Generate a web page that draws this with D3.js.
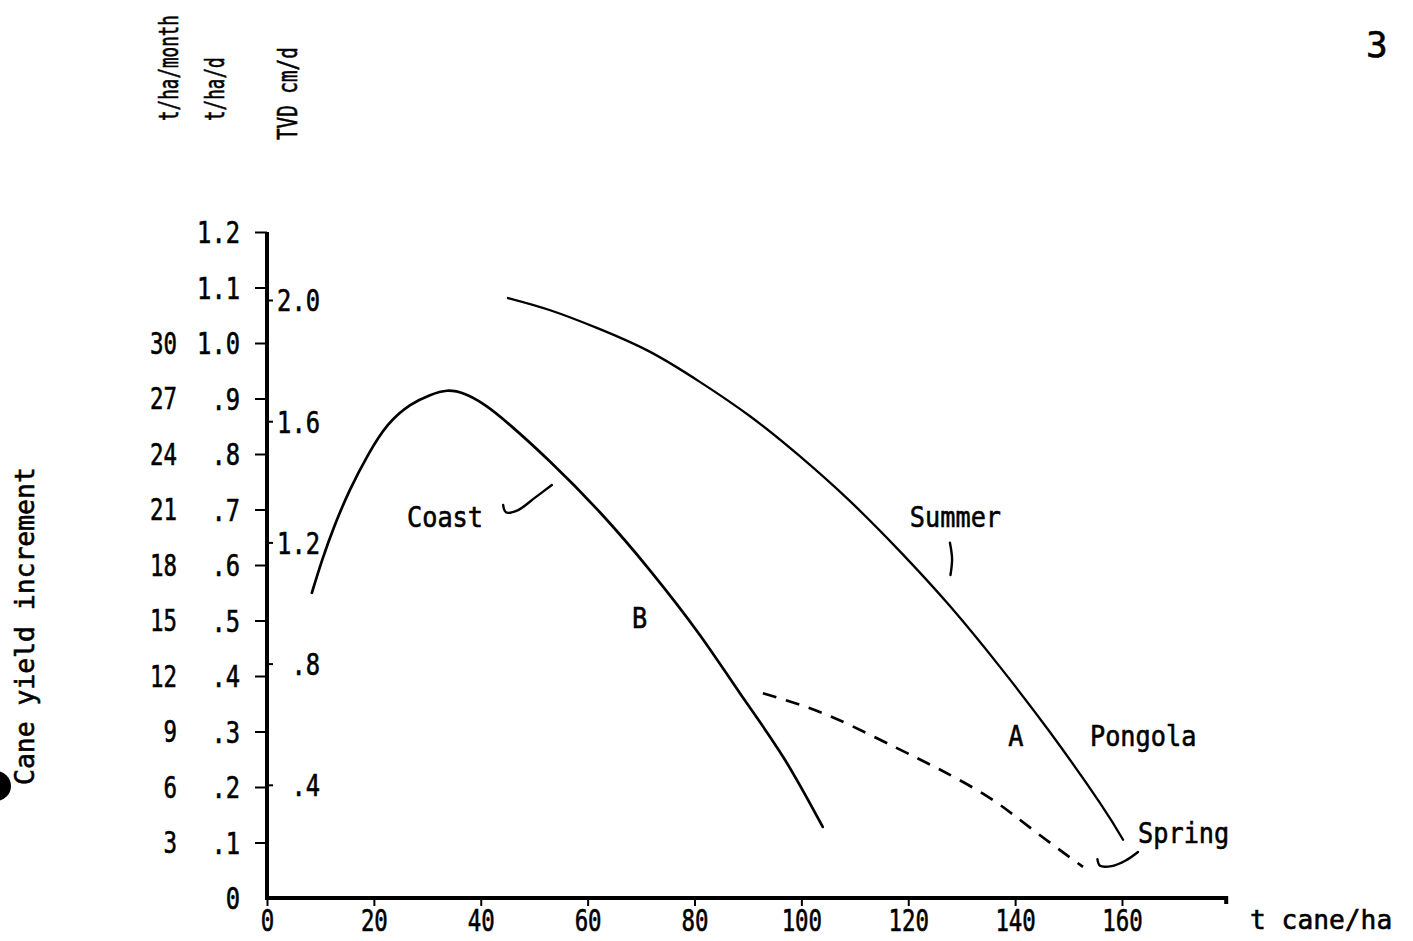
<!DOCTYPE html>
<html>
<head>
<meta charset="utf-8">
<script src="https://cdn.jsdelivr.net/npm/d3@7"></script>
<style>
  html, body { margin: 0; padding: 0; background: #fff; }
  svg { display: block; }
  text { font-family: "DejaVu Sans Mono", "Liberation Mono", monospace; fill: #000; stroke: #000; stroke-width: 0.6px; }
</style>
</head>
<body>
<svg id="chart" width="1413" height="941"></svg>
<script>
// Horizontal axis: cane yield, t cane/ha
const xTickValues = [0, 20, 40, 60, 80, 100, 120, 140, 160];

// Yield increment per day, t/ha/d
const dayTickValues = [0, 0.1, 0.2, 0.3, 0.4, 0.5, 0.6, 0.7, 0.8, 0.9, 1.0, 1.1, 1.2];
const dayTickLabels = ["0", ".1", ".2", ".3", ".4", ".5", ".6", ".7", ".8", ".9", "1.0", "1.1", "1.2"];

// Yield increment per month, t/ha/month
const monthTickValues = [3, 6, 9, 12, 15, 18, 21, 24, 27, 30];

// Total volume of water applied, TVD cm/d
const tvdTickValues = [0.4, 0.8, 1.2, 1.6, 2.0];
const tvdTickLabels = [".4", ".8", "1.2", "1.6", "2.0"];

// Curve B: Coast
const coastYield = [8.4, 10.4, 12.7, 15.5, 18.9, 22.6, 26.8, 30.5, 33.7, 37.0, 40.8, 45.5, 53.0, 62.3, 71.7, 81.0, 88.5, 96.6, 104.0];
const coastIncrement = [0.550, 0.611, 0.672, 0.735, 0.798, 0.852, 0.888, 0.906, 0.914, 0.908, 0.888, 0.852, 0.786, 0.695, 0.590, 0.474, 0.369, 0.254, 0.128];

// Curve A: Pongola, summer
const summerYield = [45.1, 53.0, 62.3, 71.7, 81.0, 90.4, 99.7, 109.1, 118.4, 127.8, 137.2, 146.5, 155.9, 160.2];
const summerIncrement = [1.081, 1.059, 1.025, 0.984, 0.930, 0.868, 0.796, 0.715, 0.625, 0.526, 0.416, 0.299, 0.171, 0.105];

// Pongola, spring (dashed)
const springYield = [92.8, 101.0, 109.0, 117.9, 126.0, 135.3, 143.3, 152.7];
const springIncrement = [0.369, 0.344, 0.312, 0.270, 0.231, 0.180, 0.123, 0.056];

// Leader strokes joining labels to curves
const coastLeaderX = [44.2, 44.7, 47.0, 50.1, 53.3];
const coastLeaderY = [0.708, 0.695, 0.699, 0.721, 0.744];
const summerLeaderX = [127.8, 128.2, 127.9];
const summerLeaderY = [0.640, 0.611, 0.582];
const springLeaderX = [155.4, 155.9, 158.3, 160.6, 163.0];
const springLeaderY = [0.070, 0.058, 0.058, 0.067, 0.083];

// Curve labels: text, yield, increment (baseline-left anchor)
const curveLabelText = ["Coast", "Summer", "B", "A", "Pongola", "Spring"];
const curveLabelX = [26.2, 120.3, 68.3, 138.7, 154.0, 163.0];
const curveLabelY = [0.668, 0.668, 0.486, 0.274, 0.274, 0.099];

const svg = d3.select("#chart");
const W = 1413, H = 941;
svg.append("rect").attr("width", W).attr("height", H).attr("fill", "#fff");

const x = d3.scaleLinear().domain([0, 160]).range([267, 1122]);
const y = d3.scaleLinear().domain([0, 1.2]).range([898, 232]);
const yTvd = d3.scaleLinear().domain([0, 2.0]).range([906, 300]);
const xEnd = 179.5;

// condensed typewriter look: squeeze glyphs to a fixed advance
function squeeze(sel, charW) {
  sel.each(function () {
    const t = d3.select(this);
    t.attr("textLength", t.text().length * charW).attr("lengthAdjust", "spacingAndGlyphs");
  });
  return sel;
}

// ---- axes ----
const axisColor = "#000";

// horizontal axis
const xAxis = svg.append("g").attr("transform", `translate(0,${y(0)})`)
  .call(d3.axisBottom(x).tickValues(xTickValues).tickSize(8).tickFormat(d3.format("d")));
xAxis.select(".domain").remove();
xAxis.selectAll(".tick line").attr("stroke", axisColor).attr("stroke-width", 2);
xAxis.selectAll(".tick text").attr("font-size", 30).attr("dy", null).attr("y", 33)
  .attr("font-family", '"DejaVu Sans Mono", monospace');
squeeze(xAxis.selectAll(".tick text"), 13.5);

svg.append("path")
  .attr("d", d3.line()([[x(0) - 1, y(0)], [x(xEnd), y(0)], [x(xEnd), y(0) + 6]]))
  .attr("fill", "none").attr("stroke", axisColor).attr("stroke-width", 4);

// vertical axis (t/ha/d) with ticks to the left
const yAxis = svg.append("g").attr("transform", `translate(${x(0)},0)`)
  .call(d3.axisLeft(y).tickValues(dayTickValues).tickSize(12)
    .tickFormat((d, i) => dayTickLabels[i]));
yAxis.select(".domain").remove();
yAxis.selectAll(".tick line").attr("stroke", axisColor).attr("stroke-width", 2);
yAxis.selectAll(".tick").filter(d => d === 0).select("line").remove();
yAxis.selectAll(".tick text").attr("font-size", 30).attr("x", -27).attr("dy", "0.36em")
  .attr("font-family", '"DejaVu Sans Mono", monospace');
squeeze(yAxis.selectAll(".tick text"), 14.3);

svg.append("line")
  .attr("x1", x(0)).attr("x2", x(0)).attr("y1", y(0) + 2).attr("y2", y(1.2))
  .attr("stroke", axisColor).attr("stroke-width", 4);

// t/ha/month labels, outer column
svg.append("g").selectAll("text").data(monthTickValues).join("text")
  .attr("x", 177).attr("y", d => y(d / 30)).attr("dy", "0.36em")
  .attr("text-anchor", "end").attr("font-size", 30)
  .text(d => d)
  .call(squeeze, 13.5);

// TVD ticks on the right of the axis
const tvdAxis = svg.append("g").attr("transform", `translate(${x(0)},0)`)
  .call(d3.axisRight(yTvd).tickValues(tvdTickValues).tickSize(6)
    .tickFormat((d, i) => tvdTickLabels[i]));
tvdAxis.select(".domain").remove();
tvdAxis.selectAll(".tick line").attr("stroke", axisColor).attr("stroke-width", 2);
tvdAxis.selectAll(".tick text").attr("font-size", 30).attr("x", 53).attr("dy", "0.36em")
  .attr("text-anchor", "end")
  .attr("font-family", '"DejaVu Sans Mono", monospace');
squeeze(tvdAxis.selectAll(".tick text"), 14.3);

// axis titles
svg.append("text").attr("x", 1250).attr("y", 929).attr("font-size", 27)
  .text("t cane/ha").call(squeeze, 15.8);

// rotated titles, condensed along the reading direction
function rotatedTitle(txt, px, py, size, charW) {
  const sx = charW / (0.602 * size);
  svg.append("text")
    .attr("transform", `translate(${px},${py}) rotate(-90) scale(${sx},1)`)
    .attr("font-size", size).text(txt);
}
rotatedTitle("t/ha/month", 178, 121, 27, 10.6);
rotatedTitle("t/ha/d", 224, 121, 27, 10.6);
rotatedTitle("TVD  cm/d", 297, 140, 27, 11.6);
rotatedTitle("Cane yield increment", 34, 785, 27, 15.9);

// ---- curves ----
const smooth = d3.line().x(d => x(d[0])).y(d => y(d[1])).curve(d3.curveNatural);
const leader = d3.line().x(d => x(d[0])).y(d => y(d[1])).curve(d3.curveCatmullRom.alpha(0.5));
const zipPts = (a, b) => a.map((v, i) => [v, b[i]]);

svg.append("path").attr("d", smooth(zipPts(coastYield, coastIncrement)))
  .attr("fill", "none").attr("stroke", "#000").attr("stroke-width", 2.7).attr("stroke-linecap", "round");
svg.append("path").attr("d", smooth(zipPts(summerYield, summerIncrement)))
  .attr("fill", "none").attr("stroke", "#000").attr("stroke-width", 2.3).attr("stroke-linecap", "round");
svg.append("path").attr("d", smooth(zipPts(springYield, springIncrement)))
  .attr("fill", "none").attr("stroke", "#000").attr("stroke-width", 2.7)
  .attr("stroke-dasharray", "14 10");

// leaders
[[coastLeaderX, coastLeaderY], [summerLeaderX, summerLeaderY], [springLeaderX, springLeaderY]]
  .forEach(([lx, ly]) => {
    svg.append("path").attr("d", leader(zipPts(lx, ly)))
      .attr("fill", "none").attr("stroke", "#000").attr("stroke-width", 2.4).attr("stroke-linecap", "round");
  });

// curve labels
svg.append("g").selectAll("text").data(curveLabelText).join("text")
  .attr("x", (d, i) => x(curveLabelX[i])).attr("y", (d, i) => y(curveLabelY[i]))
  .attr("font-size", 28).text(d => d)
  .call(squeeze, 15.2);

// page number and punch hole
svg.append("text").attr("x", 1366).attr("y", 57).attr("font-size", 36)
  .attr("font-family", '"DejaVu Sans", sans-serif').text("3");
svg.append("circle").attr("cx", -4).attr("cy", 786).attr("r", 15).attr("fill", "#000");
</script>
</body>
</html>
